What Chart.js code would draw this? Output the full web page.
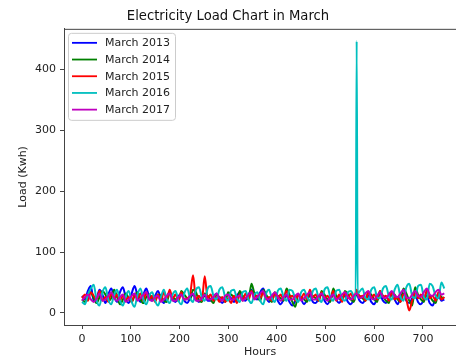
<!DOCTYPE html>
<html>
<head>
<meta charset="utf-8">
<title>Electricity Load Chart in March</title>
<script src="https://cdn.jsdelivr.net/npm/chart.js@4.4.1/dist/chart.umd.min.js"></script>
<style>
  html, body { margin: 0; padding: 0; background: #fff; }
  #wrap { width: 456px; height: 360px; }
</style>
</head>
<body>
<div id="wrap"><canvas id="chart-load" width="456" height="360"></canvas></div>
<script>
// hourly load for March, one reading every 6 hours (4 per day)
const STEP_HOURS = 6;

const load2013 = [
  28, 22, 36, 44, 20, 24, 38, 30, 16, 30, 40, 26, 18, 34, 42, 24, 16, 32, 44, 28,
  18, 30, 40, 26, 20, 28, 36, 24, 16, 26, 34, 22, 18, 28, 30, 20, 16, 24, 30, 22,
  18, 26, 28, 20, 20, 26, 32, 22, 16, 24, 30, 24, 18, 28, 34, 22, 20, 30, 38, 24,
  22, 34, 40, 26, 18, 28, 32, 20, 14, 22, 28, 18, 12, 20, 30, 22, 14, 22, 28, 18,
  16, 24, 30, 20, 14, 22, 30, 22, 16, 24, 28, 18, 14, 22, 30, 20, 16, 22, 28, 18,
  14, 24, 30, 20, 16, 22, 30, 22, 14, 26, 32, 20, 16, 24, 30, 18, 14, 22, 28, 16,
  12, 24, 30, 20, 22,
];
const load2014 = [
  22, 18, 28, 34, 24, 16, 26, 36, 30, 20, 24, 38, 26, 14, 22, 32, 24, 18, 28, 34,
  22, 16, 26, 30, 24, 20, 30, 28, 20, 18, 32, 26, 22, 20, 36, 30, 24, 22, 38, 34,
  20, 18, 32, 28, 22, 16, 30, 26, 24, 18, 34, 30, 26, 20, 36, 28, 24, 22, 48, 32,
  26, 20, 38, 30, 22, 18, 34, 28, 24, 20, 40, 30, 18, 10, 30, 26, 22, 18, 34, 28,
  24, 20, 36, 30, 22, 18, 40, 28, 24, 20, 36, 30, 22, 18, 32, 28, 24, 20, 34, 30,
  22, 18, 36, 28, 20, 16, 34, 30, 22, 18, 40, 32, 20, 12, 42, 30, 22, 18, 36, 28,
  20, 16, 32, 26, 24,
];
const load2015 = [
  24, 30, 20, 34, 28, 22, 36, 20, 26, 18, 32, 24, 30, 20, 28, 22, 26, 18, 30, 24,
  32, 20, 34, 22, 28, 18, 30, 20, 34, 22, 38, 24, 30, 20, 34, 22, 24, 30, 62, 22,
  28, 20, 60, 24, 30, 20, 26, 18, 26, 18, 24, 16, 28, 16, 30, 20, 32, 22, 36, 26,
  28, 24, 34, 22, 26, 20, 32, 24, 30, 22, 36, 26, 28, 20, 30, 24, 32, 22, 38, 26,
  30, 20, 34, 24, 28, 22, 36, 20, 30, 18, 34, 24, 32, 22, 38, 26, 28, 20, 34, 24,
  30, 22, 36, 26, 28, 20, 34, 22, 26, 18, 30, 22, 4, 20, 32, 24, 30, 22, 36, 24,
  28, 20, 34, 22, 26,
];
const load2016 = [
  18, 14, 30, 40, 46, 20, 12, 34, 42, 22, 14, 30, 38, 20, 12, 28, 36, 18, 10, 30,
  40, 22, 14, 28, 34, 20, 12, 26, 38, 22, 16, 30, 36, 20, 14, 32, 40, 24, 18, 38,
  42, 26, 20, 40, 44, 28, 22, 38, 42, 26, 20, 36, 38, 24, 18, 34, 36, 22, 16, 30,
  34, 20, 14, 32, 38, 24, 18, 36, 40, 26, 20, 38, 36, 24, 18, 34, 38, 26, 20, 36,
  40, 24, 18, 38, 42, 26, 20, 36, 38, 24, 20, 34, 36, 22, 447, 32, 40, 24, 22, 38,
  42, 26, 24, 40, 44, 28, 22, 38, 46, 26, 20, 42, 48, 28, 24, 44, 46, 26, 22, 48,
  44, 28, 24, 50, 40,
];
const load2017 = [
  20, 26, 30, 22, 18, 24, 32, 20, 22, 28, 34, 24, 20, 26, 30, 18, 22, 28, 32, 20,
  24, 30, 34, 22, 20, 26, 28, 18, 22, 28, 32, 20, 20, 26, 30, 22, 22, 28, 32, 20,
  20, 24, 30, 22, 22, 26, 32, 24, 20, 28, 30, 22, 22, 26, 28, 20, 24, 30, 34, 22,
  26, 32, 36, 24, 22, 28, 34, 26, 20, 26, 30, 22, 22, 28, 32, 20, 24, 30, 34, 22,
  22, 28, 32, 24, 20, 26, 30, 22, 24, 30, 34, 26, 22, 28, 32, 24, 26, 32, 36, 24,
  22, 28, 34, 26, 24, 30, 36, 28, 26, 32, 38, 26, 24, 30, 36, 28, 26, 34, 40, 30,
  28, 34, 38, 30, 32,
];

const seriesLabels = ["March 2013", "March 2014", "March 2015", "March 2016", "March 2017"];
const seriesValues = [load2013, load2014, load2015, load2016, load2017];
const seriesColors = ["#0000ff", "#008000", "#ff0000", "#00bfbf", "#bf00bf"];

const xTicks = [0, 100, 200, 300, 400, 500, 600, 700];
const yTicks = [0, 100, 200, 300, 400];

const hours = load2013.map((_, i) => i * STEP_HOURS);
// 2016 readings around the hour-564 surge were taken two hours either side of it
const hours2016 = hours.map((h) => (h === 558 ? 562 : h === 570 ? 566 : h));
const seriesHours = [hours, hours, hours, hours2016, hours];

const FONT = "'DejaVu Sans', sans-serif";
const INK = "#222";
const SPINE = "#444";

// matplotlib-style frame line along the top of the plot
const topSpine = {
  id: "topSpine",
  afterDraw(chart) {
    const { ctx, chartArea } = chart;
    ctx.save();
    ctx.strokeStyle = SPINE;
    ctx.lineWidth = 1;
    ctx.beginPath();
    ctx.moveTo(chartArea.left, chartArea.top + 0.5);
    ctx.lineTo(chartArea.right, chartArea.top + 0.5);
    ctx.stroke();
    ctx.restore();
  },
};

// boxed legend inside the upper-left corner of the plot
const legendBox = {
  id: "legendBox",
  afterDraw(chart) {
    const { ctx, chartArea } = chart;
    const x = chartArea.left + 4;
    const y = chartArea.top + 4;
    const rowH = 16.7;
    ctx.save();
    ctx.fillStyle = "rgba(255,255,255,0.85)";
    ctx.strokeStyle = "#cccccc";
    ctx.lineWidth = 1;
    ctx.beginPath();
    ctx.roundRect(x + 0.5, y + 0.5, 107, 87, 3);
    ctx.fill();
    ctx.stroke();
    ctx.font = "11px " + FONT;
    ctx.textBaseline = "middle";
    chart.data.datasets.forEach((ds, i) => {
      const cy = y + 10 + i * rowH;
      ctx.strokeStyle = ds.borderColor;
      ctx.lineWidth = 1.8;
      ctx.beginPath();
      ctx.moveTo(x + 4, cy);
      ctx.lineTo(x + 29, cy);
      ctx.stroke();
      ctx.fillStyle = INK;
      ctx.fillText(ds.label, x + 37, cy + 0.5);
    });
    ctx.restore();
  },
};

function initChart() {
  Chart.defaults.font.family = FONT;
  Chart.defaults.color = INK;

  const datasets = seriesValues.map((values, i) => ({
    label: seriesLabels[i],
    data: values.map((v, j) => ({ x: seriesHours[i][j], y: v })),
    borderColor: seriesColors[i],
    backgroundColor: seriesColors[i],
    borderWidth: 2,
    pointRadius: 0,
    fill: false,
    cubicInterpolationMode: "monotone",
    order: seriesValues.length - i,
  }));

  const axisTicks = { color: INK, font: { size: 11 }, padding: 4 };
  const axisGrid = { display: true, drawOnChartArea: false, drawTicks: true, tickLength: 4, tickColor: SPINE };

  new Chart(document.getElementById("chart-load"), {
    type: "line",
    data: { datasets },
    options: {
      responsive: false,
      animation: false,
      layout: { padding: 0 },
      plugins: {
        legend: { display: false },
        tooltip: { enabled: false },
        title: {
          display: true,
          text: "Electricity Load Chart in March",
          color: "#111",
          font: { size: 13.2, weight: "normal", lineHeight: 1.2 },
          padding: { top: 9, bottom: 4 },
        },
      },
      scales: {
        x: {
          type: "linear",
          min: -37,
          max: 768,
          afterBuildTicks: (s) => { s.ticks = xTicks.map((v) => ({ value: v })); },
          afterFit: (s) => { s.height = 35; },
          ticks: { ...axisTicks, maxRotation: 0 },
          grid: axisGrid,
          border: { display: true, color: SPINE, width: 1 },
          title: { display: true, text: "Hours", color: INK, font: { size: 11, lineHeight: 1.2 }, padding: { top: 0, bottom: 1.5 } },
        },
        y: {
          min: -20,
          max: 467,
          afterBuildTicks: (s) => { s.ticks = yTicks.map((v) => ({ value: v })); },
          afterFit: (s) => { s.width = 64; },
          ticks: axisTicks,
          grid: axisGrid,
          border: { display: true, color: SPINE, width: 1 },
          title: { display: true, text: "Load (Kwh)", color: INK, font: { size: 11, lineHeight: 1.2 }, padding: { top: 16.5, bottom: 0 } },
        },
      },
    },
    plugins: [topSpine, legendBox],
  });
}

document.addEventListener("DOMContentLoaded", initChart);
</script>
</body>
</html>
